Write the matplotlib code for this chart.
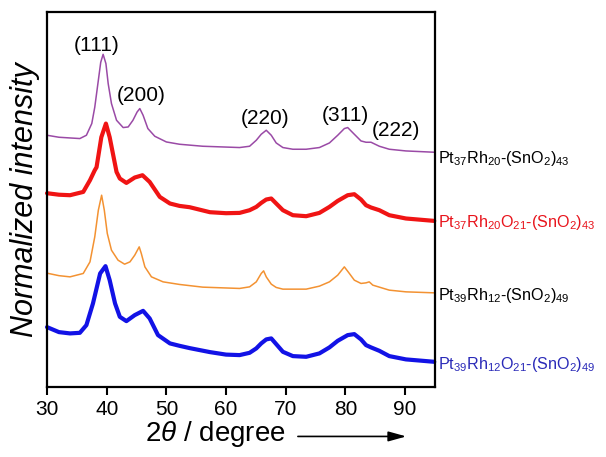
import matplotlib
matplotlib.use("Agg")
import matplotlib.pyplot as plt
from matplotlib.patches import FancyArrowPatch

plt.rcParams['font.family'] = ['Liberation Sans', 'DejaVu Sans']
plt.rcParams['mathtext.fontset'] = 'custom'
plt.rcParams['mathtext.rm'] = 'Liberation Sans'
plt.rcParams['mathtext.it'] = 'Liberation Sans:italic'
plt.rcParams['mathtext.bf'] = 'Liberation Sans:bold'

# ---- data (intensity in arbitrary offset units) ----
purple_x = [30.0, 32.0, 33.85, 35.5, 36.6, 37.5, 38.0, 38.6, 39.0, 39.4, 39.87, 40.25, 40.8, 41.65,
            42.76, 43.6, 44.4, 45.1, 45.55, 46.1, 46.9, 48.06, 50.0, 52.2, 56.1, 62.27, 63.95, 65.07,
            65.9, 66.74, 67.58, 68.41, 69.53, 71.2, 73.43, 75.65, 77.33, 78.72, 79.83, 80.39, 81.5,
            82.62, 83.46, 84.3, 85.69, 87.36, 90.15, 94.9]
purple_y = [252, 250, 249.3, 248.7, 252, 263.7, 280, 307, 325, 333, 323.7, 303.7, 283.7, 267,
            259.7, 260.3, 267, 275.3, 278.7, 272, 258.7, 251, 245.3, 243, 241, 239.7, 241, 247,
            253, 257, 252, 244.3, 239.7, 238, 238, 239.7, 244.3, 252, 258.7, 259.7, 253,
            246.3, 245, 245, 241, 238, 236.3, 235]

red_x = [30.0, 32.0, 33.85, 36.07, 37.2, 38.0, 38.3, 39.1, 39.87, 40.5, 41.65, 42.2, 43.3, 44.7,
         46.0, 47.2, 48.9, 50.6, 52.2, 53.9, 57.3, 60.0, 62.27, 63.95, 65.07, 65.9, 66.74, 67.58,
         68.41, 69.53, 71.2, 73.43, 75.65, 77.33, 78.72, 80.39, 81.5, 82.62, 83.46, 84.3, 85.69,
         87.36, 90.15, 94.9]
red_y = [194, 192.5, 192, 195.3, 207, 217, 220, 250, 263.7, 250, 215.3, 208.7, 204.3, 209.7,
         212, 205.3, 190.3, 183.7, 181.3, 180, 175, 174, 174.3, 177, 180.3, 184.3, 187.7, 188.7,
         183.7, 177, 172, 171, 174.3, 180.3, 186.3, 192, 193, 187.7, 182, 179.7, 177,
         172, 168.7, 166.3]

orange_x = [30.0, 32.0, 33.85, 36.07, 37.2, 38.0, 38.6, 39.15, 39.6, 40.1, 40.8, 41.9, 43.0, 43.9,
            44.7, 45.45, 45.8, 46.4, 47.5, 49.45, 52.2, 56.1, 62.27, 63.95, 65.07, 65.9, 66.3,
            66.74, 67.58, 68.41, 69.53, 73.43, 75.65, 77.33, 78.72, 79.83, 80.67, 81.5, 82.62,
            83.46, 84.0, 84.6, 87.36, 90.15, 94.9]
orange_y = [114, 111.5, 110.3, 113.7, 125.3, 150.3, 177, 192, 177, 153.7, 137, 127, 123, 125.3,
            132, 140.3, 133.7, 120.3, 110.3, 105.3, 102.7, 100, 98.7, 100.3, 105.3, 113.7, 116.3,
            110.3, 103, 99.7, 98, 98, 101, 105.3, 112, 120.3, 113.7, 107, 103.7,
            104.3, 105.3, 102, 97, 95.3, 94.3]

blue_x = [30.0, 32.0, 33.85, 35.5, 36.6, 37.7, 38.9, 39.8, 40.5, 41.4, 42.2, 43.3, 44.7, 46.1,
          47.2, 48.6, 50.6, 52.2, 53.9, 57.3, 60.0, 62.27, 63.95, 65.07, 65.9, 66.74, 67.58,
          68.41, 69.53, 71.2, 73.43, 75.65, 77.33, 78.72, 80.39, 81.5, 82.62, 83.46, 84.3, 85.69,
          87.36, 90.15, 94.9]
blue_y = [60, 55, 53.7, 54.3, 62, 83.7, 113.7, 121, 107, 83.7, 70.3, 66, 72, 76.3,
          68.7, 52, 43.7, 41.3, 39, 35, 32.5, 32, 34.3, 38.7, 43.7, 47.7, 48.7,
          43, 35.3, 31, 30.3, 33.7, 39.7, 46.3, 52, 53, 47.7, 42, 39.7, 36.3,
          31, 27.7, 25.3]

series_labels = [r'Pt$_{37}$Rh$_{20}$-(SnO$_{2}$)$_{43}$',
                 r'Pt$_{37}$Rh$_{20}$O$_{21}$-(SnO$_{2}$)$_{43}$',
                 r'Pt$_{39}$Rh$_{12}$-(SnO$_{2}$)$_{49}$',
                 r'Pt$_{39}$Rh$_{12}$O$_{21}$-(SnO$_{2}$)$_{49}$']
label_y = [229, 165, 92, 23]

peak_labels = ['(111)', '(200)', '(220)', '(311)', '(222)']
peak_label_x = [38.3, 45.7, 66.6, 80.0, 88.4]
peak_label_y = [342, 292, 269, 272, 257]

xticks = [30, 40, 50, 60, 70, 80, 90]

# ---- figure ----
fig = plt.figure(figsize=(6.06, 4.57), dpi=100)
ax = fig.add_axes([0.0776, 0.153, 0.640, 0.820])

series = [(purple_x, purple_y, '#9a4aa6', 1.1, 'black'),
          (red_x, red_y, '#f01414', 3.0, '#e8141c'),
          (orange_x, orange_y, '#f39232', 1.1, 'black'),
          (blue_x, blue_y, '#1212e6', 3.0, '#2a2ab8')]

for (xs, ys, c, lw, tc), lab, ly in zip(series, series_labels, label_y):
    ax.plot(xs, ys, color=c, lw=lw, solid_joinstyle='round', solid_capstyle='round', clip_on=False)
    ax.text(95.6, ly, lab, color=tc, fontsize=11.6, va='center', ha='left', clip_on=False)

for t, x, y in zip(peak_labels, peak_label_x, peak_label_y):
    ax.text(x, y, t, fontsize=15, ha='center', va='center')

ax.set_xlim(30, 95)
ax.set_ylim(0, 375)
ax.set_xticks(xticks)
ax.set_yticks([])
ax.tick_params(axis='x', direction='out', length=6, width=1.5, labelsize=15, pad=3)
for s in ax.spines.values():
    s.set_linewidth(1.6)

ax.set_ylabel('Normalized intensity', fontsize=22, style='italic', labelpad=5)

fig.text(0.355, 0.018, r'$2\theta$ / degree', fontsize=20, ha='center', va='bottom')
fig.add_artist(FancyArrowPatch((0.487, 0.045), (0.675, 0.045),
                               transform=fig.transFigure,
                               arrowstyle='-|>,head_length=0.9,head_width=0.25', mutation_scale=12,
                               lw=1.2, color='black'))

fig.savefig('out.png', dpi=100)
